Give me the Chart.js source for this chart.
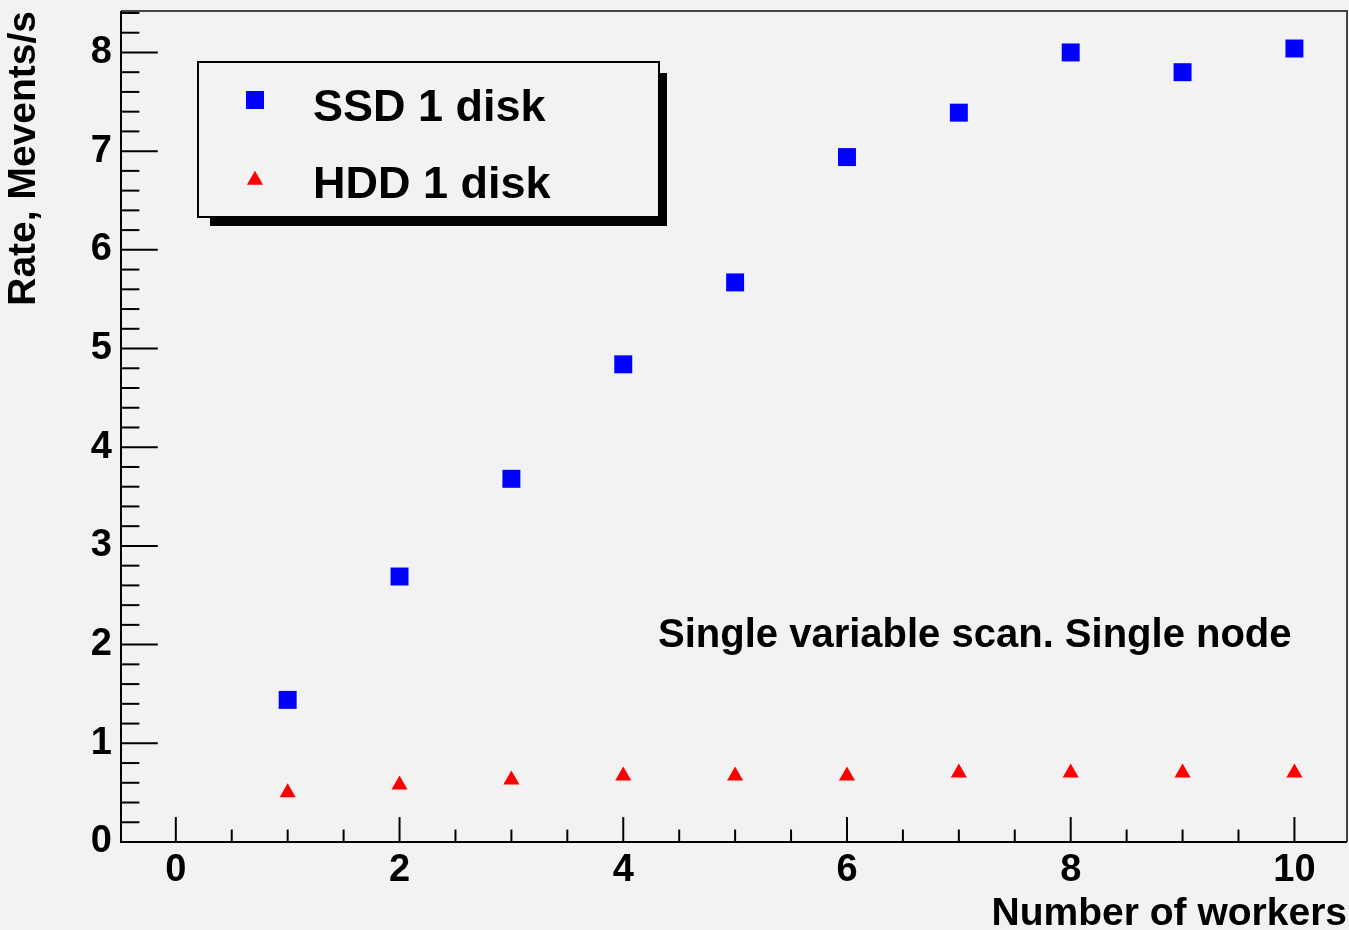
<!DOCTYPE html>
<html>
<head>
<meta charset="utf-8">
<script src="https://cdn.jsdelivr.net/npm/chart.js@4"></script>
<style>
  html, body { margin: 0; padding: 0; background: #f2f2f2; overflow: hidden; }
  #wrap { width: 1349px; height: 930px; }
  canvas { display: block; }
</style>
</head>
<body>
<div id="wrap"><canvas id="rateChart" width="1349" height="930"></canvas></div>
<script>
// data
const workers = [1, 2, 3, 4, 5, 6, 7, 8, 9, 10];
const ssdRate = [1.44, 2.69, 3.68, 4.84, 5.67, 6.94, 7.39, 8.00, 7.80, 8.04];
const hddRate = [0.50, 0.58, 0.63, 0.67, 0.67, 0.67, 0.70, 0.70, 0.70, 0.70];
const xTicks = [0, 2, 4, 6, 8, 10];
const yTicks = [0, 1, 2, 3, 4, 5, 6, 7, 8];
const seriesNames = ['SSD 1 disk', 'HDD 1 disk'];
const note = 'Single variable scan. Single node';

const FONT = '"Liberation Sans", Arial, Helvetica, sans-serif';

function toPoints(ys) {
  return workers.map((w, i) => ({ x: w, y: ys[i] }));
}

// ROOT-like frame: grey pad, inside ticks, shadowed legend, text note
const rootFrame = {
  id: 'rootFrame',
  beforeDraw(chart) {
    const ctx = chart.ctx;
    ctx.save();
    ctx.fillStyle = '#f2f2f2';
    ctx.fillRect(0, 0, chart.width, chart.height);
    ctx.restore();
  },
  beforeDatasetsDraw(chart) {
    const ctx = chart.ctx;
    const { left, right, top, bottom } = chart.chartArea;
    const xs = chart.scales.x, ys = chart.scales.y;
    ctx.save();

    // top / right frame
    ctx.strokeStyle = '#444';
    ctx.lineWidth = 2;
    ctx.beginPath();
    ctx.moveTo(left, top);
    ctx.lineTo(right, top);
    ctx.lineTo(right, bottom);
    ctx.stroke();

    // axes
    ctx.strokeStyle = '#000';
    ctx.beginPath();
    ctx.moveTo(left, top);
    ctx.lineTo(left, bottom);
    ctx.lineTo(right, bottom);
    ctx.stroke();

    // y ticks, major every 1, minor every 0.2
    const yMajorLen = 0.03 * (right - left);
    for (let k = 0; k * 0.2 <= ys.max + 1e-9; k++) {
      const py = ys.getPixelForValue(k * 0.2);
      const len = k % 5 === 0 ? yMajorLen : yMajorLen / 2;
      ctx.beginPath();
      ctx.moveTo(left, py);
      ctx.lineTo(left + len, py);
      ctx.stroke();
    }

    // x ticks, major every 2, minor every 0.5
    const xMajorLen = 0.03 * (bottom - top);
    for (let k = Math.ceil(xs.min / 0.5); k * 0.5 <= xs.max + 1e-9; k++) {
      const px = xs.getPixelForValue(k * 0.5);
      if (px <= left + 1) continue;
      const len = k % 4 === 0 ? xMajorLen : xMajorLen / 2;
      ctx.beginPath();
      ctx.moveTo(px, bottom);
      ctx.lineTo(px, bottom - len);
      ctx.stroke();
    }
    ctx.restore();
  },
  afterDraw(chart) {
    const ctx = chart.ctx;
    ctx.save();

    // legend box with shadow
    const box = { x: 198, y: 62, w: 461, h: 155 };
    ctx.fillStyle = '#000';
    ctx.fillRect(box.x + 12, box.y + 11, box.w - 4, box.h - 2);
    ctx.fillStyle = '#f2f2f2';
    ctx.fillRect(box.x, box.y, box.w, box.h);
    ctx.strokeStyle = '#000';
    ctx.lineWidth = 2;
    ctx.strokeRect(box.x, box.y, box.w, box.h);

    const rows = [{ my: 100, ty: 121 }, { my: 180, ty: 198 }];
    chart.data.datasets.forEach((ds, i) => {
      const r = rows[i];
      ctx.fillStyle = ds.pointBackgroundColor;
      ctx.strokeStyle = ds.pointBackgroundColor;
      Chart.helpers.drawPoint(ctx, {
        pointStyle: ds.pointStyle,
        radius: ds.pointRadius,
        rotation: 0,
        borderWidth: 0
      }, 255, r.my);
      ctx.fillStyle = '#000';
      ctx.font = 'bold 45px ' + FONT;
      ctx.textAlign = 'left';
      ctx.textBaseline = 'alphabetic';
      ctx.fillText(ds.label, 313, r.ty);
    });

    // note
    ctx.fillStyle = '#000';
    ctx.font = 'bold 40px ' + FONT;
    ctx.textAlign = 'left';
    ctx.textBaseline = 'alphabetic';
    ctx.fillText(note, 658, 647);
    ctx.restore();
  }
};

new Chart(document.getElementById('rateChart'), {
  type: 'scatter',
  data: {
    datasets: [{
      label: seriesNames[0],
      data: toPoints(ssdRate),
      pointStyle: 'rect',
      pointRadius: 12.7,
      pointBorderWidth: 0,
      pointBackgroundColor: '#0000ff',
      pointBorderColor: '#0000ff'
    }, {
      label: seriesNames[1],
      data: toPoints(hddRate),
      pointStyle: 'triangle',
      pointRadius: 9.3,
      pointBorderWidth: 0,
      pointBackgroundColor: '#ff0000',
      pointBorderColor: '#ff0000'
    }]
  },
  options: {
    responsive: false,
    animation: false,
    events: [],
    layout: { autoPadding: false, padding: { top: 11, right: 2, bottom: 0, left: 0 } },
    plugins: {
      legend: { display: false },
      tooltip: { enabled: false }
    },
    scales: {
      x: {
        type: 'linear',
        min: -0.49,
        max: 10.47,
        afterBuildTicks: (scale) => { scale.ticks = xTicks.map(v => ({ value: v })); },
        afterFit: (scale) => {
          scale.height = 88;
          scale.paddingLeft = 0;
          scale.paddingRight = 0;
        },
        grid: { display: false, drawTicks: false },
        border: { display: false },
        ticks: {
          color: '#000',
          padding: 6,
          maxRotation: 0,
          autoSkip: false,
          font: { family: FONT, size: 38, weight: 'bold' }
        },
        title: {
          display: true,
          text: 'Number of workers',
          align: 'end',
          color: '#000',
          padding: { top: 0, bottom: 0 },
          font: { family: FONT, size: 39, weight: 'bold', lineHeight: 0.8 }
        }
      },
      y: {
        type: 'linear',
        min: 0,
        max: 8.42,
        afterBuildTicks: (scale) => { scale.ticks = yTicks.map(v => ({ value: v })); },
        afterFit: (scale) => {
          scale.width = 121;
          scale.paddingTop = 0;
          scale.paddingBottom = 0;
        },
        grid: { display: false, drawTicks: false },
        border: { display: false },
        ticks: {
          color: '#000',
          padding: 9,
          autoSkip: false,
          font: { family: FONT, size: 38, weight: 'bold' }
        },
        title: {
          display: true,
          text: 'Rate, Mevents/s',
          align: 'end',
          color: '#000',
          padding: { top: 1, bottom: 0 },
          font: { family: FONT, size: 39, weight: 'bold', lineHeight: 1.2 }
        }
      }
    }
  },
  plugins: [rootFrame]
});
</script>
</body>
</html>
